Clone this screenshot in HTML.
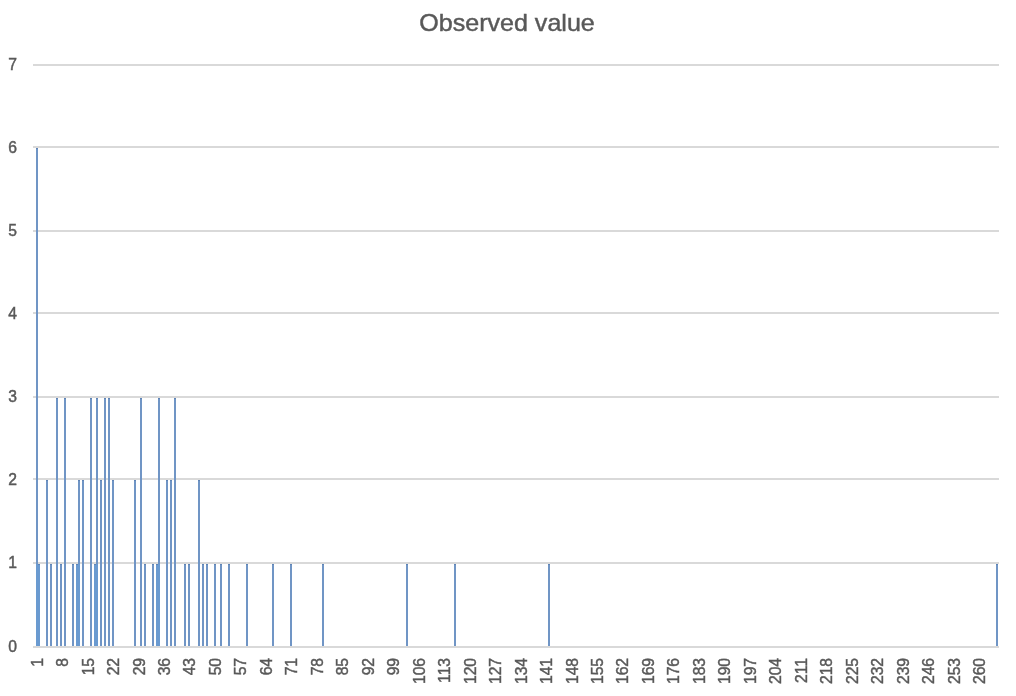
<!DOCTYPE html>
<html><head><meta charset="utf-8"><title>Observed value</title>
<style>
html,body{margin:0;padding:0;background:#fff;}
body{width:1016px;height:696px;overflow:hidden;font-family:"Liberation Sans",sans-serif;}
svg{display:block;}
text{font-family:"Liberation Sans",sans-serif;fill:#595959;stroke:#595959;stroke-width:0.45;}
</style></head><body>
<svg width="1016" height="696" viewBox="0 0 1016 696">
<defs><filter id="soft" x="0" y="0" width="1016" height="696" filterUnits="userSpaceOnUse"><feGaussianBlur stdDeviation="0.4"/></filter></defs>
<rect x="0" y="0" width="1016" height="696" fill="#ffffff"/>
<g filter="url(#soft)">
<g shape-rendering="crispEdges" fill="#d9d9d9">
<rect x="33" y="646" width="966" height="2"/>
<rect x="33" y="562" width="966" height="2"/>
<rect x="33" y="478" width="966" height="2"/>
<rect x="33" y="396" width="966" height="2"/>
<rect x="33" y="312" width="966" height="2"/>
<rect x="33" y="230" width="966" height="2"/>
<rect x="33" y="146" width="966" height="2"/>
<rect x="33" y="64" width="966" height="2"/>
</g>
<g shape-rendering="crispEdges" fill="#6f95c5">
<rect x="36" y="148" width="2" height="498"/>
<rect x="38" y="564" width="2" height="82"/>
<rect x="46" y="480" width="2" height="166"/>
<rect x="50" y="564" width="2" height="82"/>
<rect x="56" y="398" width="2" height="248"/>
<rect x="60" y="564" width="2" height="82"/>
<rect x="64" y="398" width="2" height="248"/>
<rect x="72" y="564" width="2" height="82"/>
<rect x="76" y="564" width="2" height="82"/>
<rect x="78" y="480" width="2" height="166"/>
<rect x="82" y="480" width="2" height="166"/>
<rect x="90" y="398" width="2" height="248"/>
<rect x="94" y="564" width="2" height="82"/>
<rect x="96" y="398" width="2" height="248"/>
<rect x="100" y="480" width="2" height="166"/>
<rect x="104" y="398" width="2" height="248"/>
<rect x="108" y="398" width="2" height="248"/>
<rect x="112" y="480" width="2" height="166"/>
<rect x="134" y="480" width="2" height="166"/>
<rect x="140" y="398" width="2" height="248"/>
<rect x="144" y="564" width="2" height="82"/>
<rect x="152" y="564" width="2" height="82"/>
<rect x="156" y="564" width="2" height="82"/>
<rect x="158" y="398" width="2" height="248"/>
<rect x="166" y="480" width="2" height="166"/>
<rect x="170" y="480" width="2" height="166"/>
<rect x="174" y="398" width="2" height="248"/>
<rect x="184" y="564" width="2" height="82"/>
<rect x="188" y="564" width="2" height="82"/>
<rect x="198" y="480" width="2" height="166"/>
<rect x="202" y="564" width="2" height="82"/>
<rect x="206" y="564" width="2" height="82"/>
<rect x="214" y="564" width="2" height="82"/>
<rect x="220" y="564" width="2" height="82"/>
<rect x="228" y="564" width="2" height="82"/>
<rect x="246" y="564" width="2" height="82"/>
<rect x="272" y="564" width="2" height="82"/>
<rect x="290" y="564" width="2" height="82"/>
<rect x="322" y="564" width="2" height="82"/>
<rect x="406" y="564" width="2" height="82"/>
<rect x="454" y="564" width="2" height="82"/>
<rect x="548" y="564" width="2" height="82"/>
<rect x="996" y="564" width="2" height="82"/>
</g>
<g shape-rendering="crispEdges" fill="#6a9ad0">
<rect x="36" y="564" width="4" height="82"/>
<rect x="76" y="564" width="4" height="82"/>
<rect x="94" y="564" width="4" height="82"/>
<rect x="156" y="564" width="4" height="82"/>
</g>
<g shape-rendering="crispEdges" fill="#5f84b6">
<rect x="36" y="148" width="2" height="1"/>
<rect x="38" y="564" width="2" height="1"/>
<rect x="46" y="480" width="2" height="1"/>
<rect x="50" y="564" width="2" height="1"/>
<rect x="56" y="398" width="2" height="1"/>
<rect x="60" y="564" width="2" height="1"/>
<rect x="64" y="398" width="2" height="1"/>
<rect x="72" y="564" width="2" height="1"/>
<rect x="76" y="564" width="2" height="1"/>
<rect x="78" y="480" width="2" height="1"/>
<rect x="82" y="480" width="2" height="1"/>
<rect x="90" y="398" width="2" height="1"/>
<rect x="94" y="564" width="2" height="1"/>
<rect x="96" y="398" width="2" height="1"/>
<rect x="100" y="480" width="2" height="1"/>
<rect x="104" y="398" width="2" height="1"/>
<rect x="108" y="398" width="2" height="1"/>
<rect x="112" y="480" width="2" height="1"/>
<rect x="134" y="480" width="2" height="1"/>
<rect x="140" y="398" width="2" height="1"/>
<rect x="144" y="564" width="2" height="1"/>
<rect x="152" y="564" width="2" height="1"/>
<rect x="156" y="564" width="2" height="1"/>
<rect x="158" y="398" width="2" height="1"/>
<rect x="166" y="480" width="2" height="1"/>
<rect x="170" y="480" width="2" height="1"/>
<rect x="174" y="398" width="2" height="1"/>
<rect x="184" y="564" width="2" height="1"/>
<rect x="188" y="564" width="2" height="1"/>
<rect x="198" y="480" width="2" height="1"/>
<rect x="202" y="564" width="2" height="1"/>
<rect x="206" y="564" width="2" height="1"/>
<rect x="214" y="564" width="2" height="1"/>
<rect x="220" y="564" width="2" height="1"/>
<rect x="228" y="564" width="2" height="1"/>
<rect x="246" y="564" width="2" height="1"/>
<rect x="272" y="564" width="2" height="1"/>
<rect x="290" y="564" width="2" height="1"/>
<rect x="322" y="564" width="2" height="1"/>
<rect x="406" y="564" width="2" height="1"/>
<rect x="454" y="564" width="2" height="1"/>
<rect x="548" y="564" width="2" height="1"/>
<rect x="996" y="564" width="2" height="1"/>
</g>
<text x="507" y="30.5" font-size="24" text-anchor="middle" textLength="175.5" lengthAdjust="spacingAndGlyphs">Observed value</text>
<g font-size="15.7">
<text x="8.2" y="651.55">0</text>
<text x="8.2" y="568.41">1</text>
<text x="8.2" y="485.27">2</text>
<text x="8.2" y="402.13">3</text>
<text x="8.2" y="318.99">4</text>
<text x="8.2" y="235.85">5</text>
<text x="8.2" y="152.71">6</text>
<text x="8.2" y="69.57">7</text>
</g>
<g font-size="15.7" text-anchor="end">
<text transform="translate(42.65,657.9) rotate(-90)">1</text>
<text transform="translate(68.12,657.9) rotate(-90)">8</text>
<text transform="translate(93.59,657.9) rotate(-90)">15</text>
<text transform="translate(119.06,657.9) rotate(-90)">22</text>
<text transform="translate(144.53,657.9) rotate(-90)">29</text>
<text transform="translate(170.00,657.9) rotate(-90)">36</text>
<text transform="translate(195.47,657.9) rotate(-90)">43</text>
<text transform="translate(220.94,657.9) rotate(-90)">50</text>
<text transform="translate(246.41,657.9) rotate(-90)">57</text>
<text transform="translate(271.88,657.9) rotate(-90)">64</text>
<text transform="translate(297.35,657.9) rotate(-90)">71</text>
<text transform="translate(322.82,657.9) rotate(-90)">78</text>
<text transform="translate(348.29,657.9) rotate(-90)">85</text>
<text transform="translate(373.76,657.9) rotate(-90)">92</text>
<text transform="translate(399.23,657.9) rotate(-90)">99</text>
<text transform="translate(424.70,657.9) rotate(-90)">106</text>
<text transform="translate(450.17,657.9) rotate(-90)">113</text>
<text transform="translate(475.64,657.9) rotate(-90)">120</text>
<text transform="translate(501.11,657.9) rotate(-90)">127</text>
<text transform="translate(526.58,657.9) rotate(-90)">134</text>
<text transform="translate(552.05,657.9) rotate(-90)">141</text>
<text transform="translate(577.52,657.9) rotate(-90)">148</text>
<text transform="translate(602.99,657.9) rotate(-90)">155</text>
<text transform="translate(628.46,657.9) rotate(-90)">162</text>
<text transform="translate(653.93,657.9) rotate(-90)">169</text>
<text transform="translate(679.40,657.9) rotate(-90)">176</text>
<text transform="translate(704.87,657.9) rotate(-90)">183</text>
<text transform="translate(730.34,657.9) rotate(-90)">190</text>
<text transform="translate(755.81,657.9) rotate(-90)">197</text>
<text transform="translate(781.28,657.9) rotate(-90)">204</text>
<text transform="translate(806.75,657.9) rotate(-90)">211</text>
<text transform="translate(832.22,657.9) rotate(-90)">218</text>
<text transform="translate(857.69,657.9) rotate(-90)">225</text>
<text transform="translate(883.16,657.9) rotate(-90)">232</text>
<text transform="translate(908.63,657.9) rotate(-90)">239</text>
<text transform="translate(934.10,657.9) rotate(-90)">246</text>
<text transform="translate(959.57,657.9) rotate(-90)">253</text>
<text transform="translate(985.04,657.9) rotate(-90)">260</text>
</g>
</g>
</svg>
</body></html>
